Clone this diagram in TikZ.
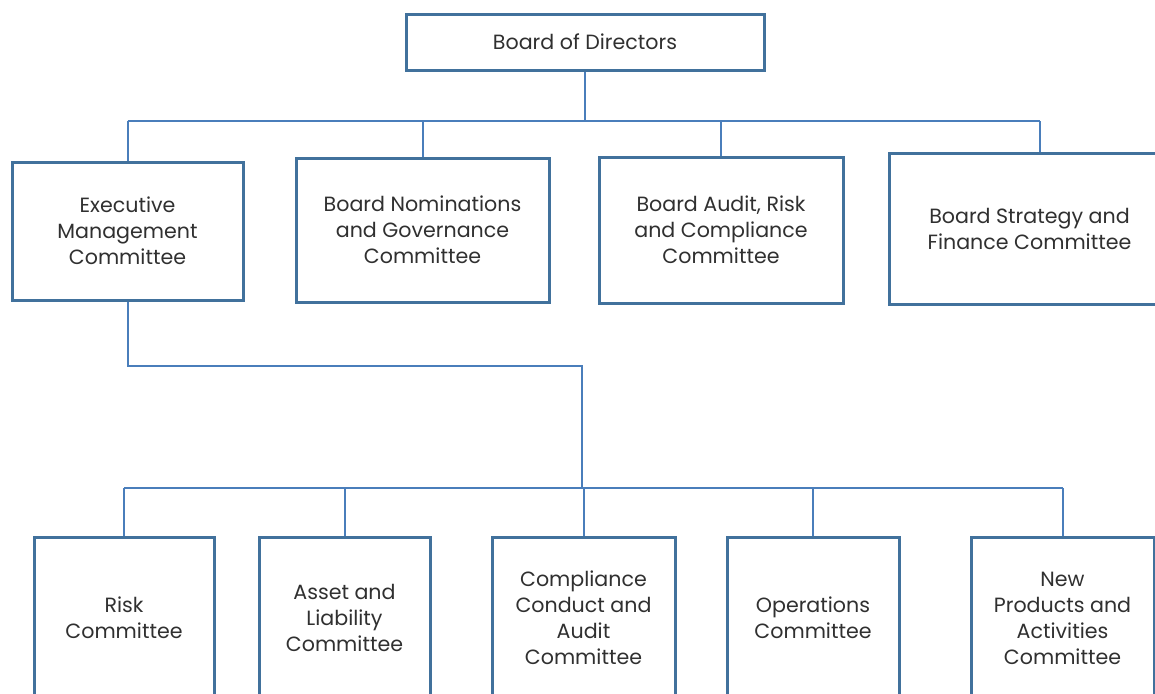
\documentclass[tikz,border=0pt]{standalone}
\usepackage{fontspec}
\setmainfont{Poppins}
\definecolor{boxblue}{HTML}{41719C}
\definecolor{linkblue}{HTML}{4A7EBB}
\definecolor{txt}{HTML}{303030}
\begin{document}
\begin{tikzpicture}[x=0.5pt,y=-0.5pt,
  orgbox/.style={draw=boxblue, line width=1.5pt, fill=white, align=center,
    text=txt, font=\fontsize{10.3}{13}\selectfont, inner sep=0pt},
  link/.style={draw=linkblue, line width=1pt}]
\useasboundingbox (0,0) rectangle (1155,693);
\clip (0,0) rectangle (1155,693);
% top
\node[orgbox, minimum width=179pt, minimum height=28pt] (bod) at (585,42) {Board of Directors};
% second row
\node[orgbox, minimum width=115.5pt, minimum height=69pt] (exec) at (127.5,231) {Executive\\Management\\Committee};
\node[orgbox, minimum width=126.5pt, minimum height=72pt] (nom) at (422.5,230) {Board Nominations\\and Governance\\Committee};
\node[orgbox, minimum width=122pt, minimum height=73pt] (aud) at (721,230) {Board Audit, Risk\\and Compliance\\Committee};
\node[orgbox, minimum width=140.5pt, minimum height=75.5pt] (strat) at (1029.5,228.5) {Board Strategy and\\Finance Committee};
% bottom row
\node[orgbox, minimum width=90pt, minimum height=81pt] (risk) at (124,618) {Risk\\Committee};
\node[orgbox, minimum width=85.5pt, minimum height=81pt] (alco) at (344.5,618) {Asset and\\Liability\\Committee};
\node[orgbox, minimum width=91.5pt, minimum height=81pt] (comp) at (583.5,618) {Compliance\\Conduct and\\Audit\\Committee};
\node[orgbox, minimum width=86pt, minimum height=81pt] (ops) at (813,618) {Operations\\Committee};
\node[orgbox, minimum width=91.5pt, minimum height=81pt] (npa) at (1062.5,618) {New\\Products and\\Activities\\Committee};
% connector coordinates
\coordinate (busA) at (582,121);
\coordinate (stratj) at (1040,121);
\coordinate (elbow) at (582,366);
\coordinate (busB) at (582,488);
% upper connectors
\draw[link] (bod.south) -- (bod.south |- busA);
\draw[link] (exec.north |- busA) -- (stratj);
\draw[link] (exec.north |- busA) -- (exec.north);
\draw[link] (nom.north |- busA) -- (nom.north);
\draw[link] (aud.north |- busA) -- (aud.north);
\draw[link] (stratj) -- (stratj |- strat.north);
% exec to lower bus
\draw[link] (exec.south) -- (exec.south |- elbow) -- (elbow) -- (busB);
\draw[link] (risk.north |- busB) -- (npa.north |- busB);
\draw[link] (risk.north |- busB) -- (risk.north);
\draw[link] (alco.north |- busB) -- (alco.north);
\draw[link] (comp.north |- busB) -- (comp.north);
\draw[link] (ops.north |- busB) -- (ops.north);
\draw[link] (npa.north |- busB) -- (npa.north);
\end{tikzpicture}
\end{document}
